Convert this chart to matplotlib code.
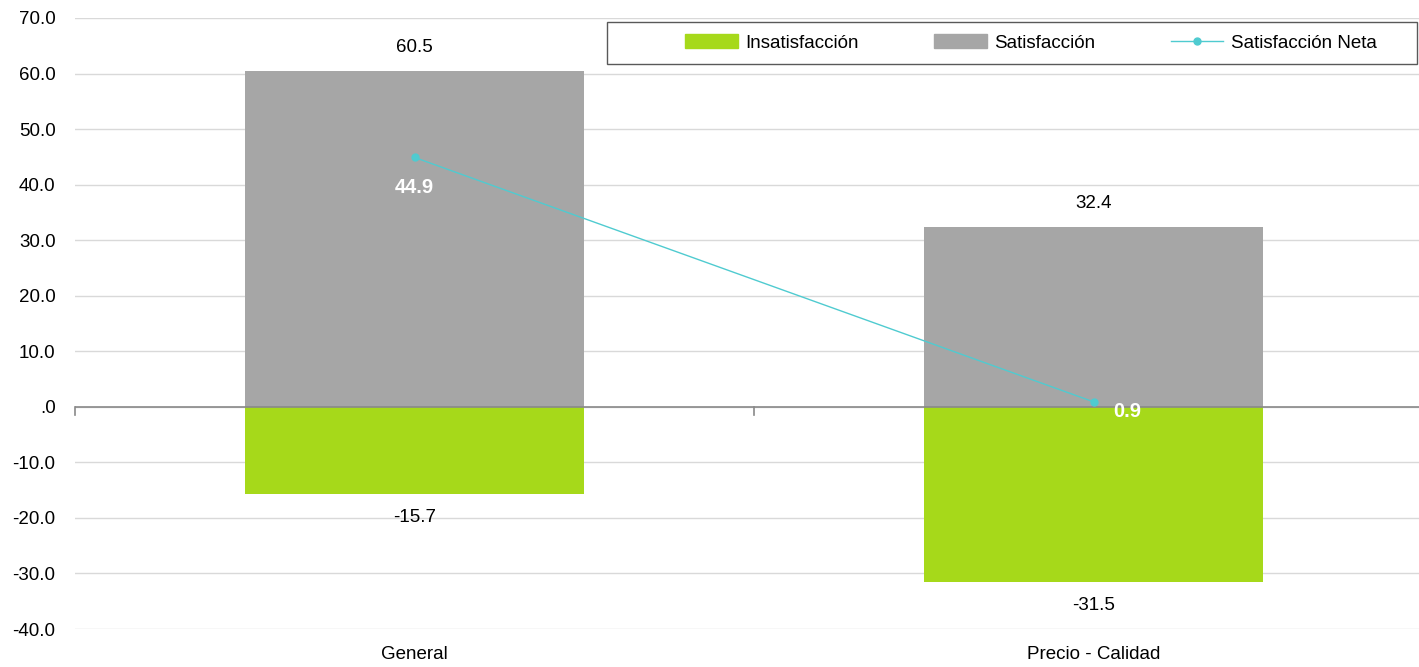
import numpy as np
import matplotlib.pyplot as plt
from matplotlib.patches import Patch, Rectangle
from matplotlib.lines import Line2D

# datos
categorias = ['General', 'Precio - Calidad']
insatisfaccion = [-15.7, -31.5]
satisfaccion = [60.5, 32.4]
neta = [44.9, 0.9]

verde = '#A6D91A'
gris = '#A6A6A6'
cian = '#4FCBD0'

plt.rcParams['font.family'] = ['Liberation Sans', 'DejaVu Sans']
fs = 13.5

fig = plt.figure(figsize=(14.19, 6.67), dpi=100)
ax = fig.add_axes([75 / 1419, 38 / 667, 1358 / 1419, 611 / 667])

x = np.arange(len(categorias))
ax.bar(x, satisfaccion, width=0.5, color=gris, zorder=2)
ax.bar(x, insatisfaccion, width=0.5, color=verde, zorder=2)
ax.plot(x, neta, color=cian, lw=1, marker='o', markersize=5, zorder=4)

# etiquetas
for i in x:
    ax.text(i, satisfaccion[i] + 4.2, '%.1f' % satisfaccion[i], ha='center', va='center', fontsize=fs)
    ax.text(i, insatisfaccion[i] - 4.2, '%.1f' % insatisfaccion[i], ha='center', va='center', fontsize=fs)
ax.text(x[0], neta[0] - 5.5, '%.1f' % neta[0], ha='center', va='center', fontsize=fs + 1,
        color='white', fontweight='bold', zorder=5)
ax.text(x[1] + 0.05, neta[1] - 1.7, '%.1f' % neta[1], ha='center', va='center', fontsize=fs + 1,
        color='white', fontweight='bold', zorder=5)

ax.set_ylim(-40, 70)
ax.set_xlim(-0.5, 1.5)
ax.set_yticks(np.arange(-40, 71, 10))
ax.set_yticklabels(['.0' if v == 0 else '%.1f' % v for v in np.arange(-40, 71, 10)])
ax.grid(axis='y', color='#D9D9D9', lw=1, zorder=0)
ax.set_axisbelow(True)
for s in ax.spines.values():
    s.set_visible(False)
ax.tick_params(axis='y', length=0, labelsize=fs, pad=14)
ax.set_xticks(x)
ax.set_xticklabels(categorias)
ax.tick_params(axis='x', length=0, labelsize=fs, pad=12)

# eje cero con marcas
ax.axhline(0, color='#898989', lw=1.2, zorder=3)
for t in [-0.5, 0.5, 1.5]:
    ax.plot([t, t], [0, -1.5], color='#898989', lw=1.2, zorder=3, clip_on=False)

# leyenda
handles = [Patch(color=verde), Patch(color=gris),
           Line2D([], [], color=cian, lw=1, marker='o', markersize=5)]
leg = fig.legend(handles, ['Insatisfacción', 'Satisfacción', 'Satisfacción Neta'],
                 ncol=3, loc='center left',
                 bbox_to_anchor=(676 / 1419, 1 - 43 / 667, 710 / 1419, 0.0),
                 mode='expand', frameon=False, fontsize=fs,
                 handlelength=2.8, handleheight=0.7, handletextpad=0.4, borderpad=0)
fig.patches.append(Rectangle((607 / 1419, 1 - 64 / 667), 810 / 1419, 42 / 667,
                             transform=fig.transFigure, fill=True, facecolor='white',
                             edgecolor='#595959', lw=1, zorder=1))
leg.set_zorder(2)

fig.savefig('out.png', dpi=100)
